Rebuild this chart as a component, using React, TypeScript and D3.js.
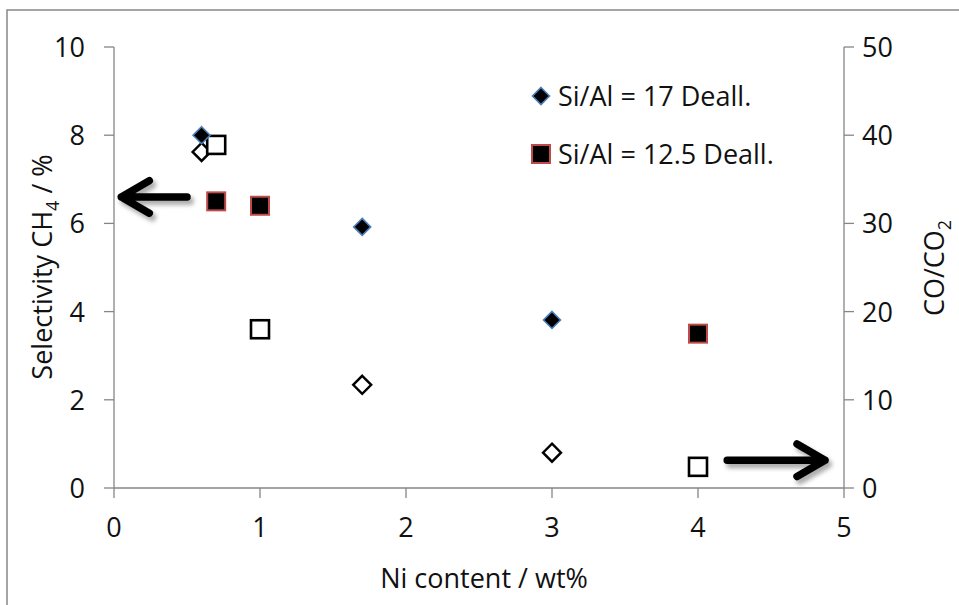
import React from "react";
import * as d3 from "d3";

// Ni loading (wt%) for each catalyst series
const niSi17 = [0.6, 1.7, 3.0];
const niSi125 = [0.7, 1.0, 4.0];

// CH4 selectivity (%) – left axis
const ch4Si17 = [8.0, 5.92, 3.81];
const ch4Si125 = [6.5, 6.4, 3.5];

// CO/CO2 ratio – right axis
const coRatioSi17 = [38.1, 11.7, 4.0];
const coRatioSi125 = [38.9, 18.0, 2.4];

const xTicks = [0, 1, 2, 3, 4, 5];
const leftTicks = [0, 2, 4, 6, 8, 10];
const rightTicks = [0, 10, 20, 30, 40, 50];

const legendLabels = ["Si/Al = 17 Deall.", "Si/Al = 12.5 Deall."];

const W = 959;
const H = 605;
const FONT = "'Open Sans', 'Noto Sans', sans-serif";
const FS = 27;
const AXIS = "#868686";

export default function App() {
  const x = d3.scaleLinear().domain([0, 5]).range([114, 844]);
  const yL = d3.scaleLinear().domain([0, 10]).range([488, 47]);
  const yR = d3.scaleLinear().domain([0, 50]).range([488, 47]);

  const diamond = (cx: number, cy: number, r: number) =>
    `M${cx},${cy - r}L${cx + r},${cy}L${cx},${cy + r}L${cx - r},${cy}Z`;

  const arrowPath = (x1: number, x2: number, y: number, head: number) => {
    const dir = x2 > x1 ? 1 : -1;
    return `M${x1},${y}L${x2},${y}M${x2 - dir * head},${y - head * 0.58}L${x2},${y}L${x2 - dir * head},${y + head * 0.58}`;
  };

  const leftArrow = arrowPath(x(0.5), x(0.05), yL(6.6), 28);
  const rightArrow = arrowPath(x(4.2), x(4.87), yL(0.63), 28);

  return (
    <svg width={W} height={H} style={{ display: "block", position: "absolute", left: 0, top: 0 }}>
      <defs>
        <filter id="shadow" x="-20%" y="-50%" width="140%" height="200%">
          <feGaussianBlur stdDeviation="2" />
        </filter>
      </defs>
      <rect x={0} y={0} width={W} height={H} fill="#fff" />
      <rect x={7} y={10} width={W + 20} height={H + 20} fill="none" stroke="#888" strokeWidth={1.5} />

      {/* axes */}
      <g stroke={AXIS} strokeWidth={1.3}>
        <line x1={x(0)} x2={x(5)} y1={yL(0)} y2={yL(0)} />
        <line x1={x(0)} x2={x(0)} y1={yL(0)} y2={yL(10)} />
        <line x1={x(5)} x2={x(5)} y1={yR(0)} y2={yR(50)} />
        {xTicks.map((t) => (
          <line key={"xt" + t} x1={x(t)} x2={x(t)} y1={yL(0)} y2={yL(0) + 10} />
        ))}
        {leftTicks.map((t) => (
          <line key={"lt" + t} x1={x(0) - 10} x2={x(0)} y1={yL(t)} y2={yL(t)} />
        ))}
        {rightTicks.map((t) => (
          <line key={"rt" + t} x1={x(5)} x2={x(5) + 10} y1={yR(t)} y2={yR(t)} />
        ))}
      </g>

      <g fontFamily={FONT} fontSize={FS} fill="#111">
        {xTicks.map((t) => (
          <text key={"xl" + t} x={x(t)} y={yL(0) + 49} textAnchor="middle">{t}</text>
        ))}
        {leftTicks.map((t) => (
          <text key={"ll" + t} x={x(0) - 29} y={yL(t) + 10} textAnchor="end">{t}</text>
        ))}
        {rightTicks.map((t) => (
          <text key={"rl" + t} x={x(5) + 18} y={yR(t) + 10} textAnchor="start">{t}</text>
        ))}
        <text x={484} y={588} textAnchor="middle">Ni content / wt%</text>
        <text transform={`translate(52,${267}) rotate(-90)`} textAnchor="middle">
          Selectivity CH<tspan fontSize={18} dy={7}>4</tspan><tspan dy={-7}> / %</tspan>
        </text>
        <text transform={`translate(944,${268}) rotate(-90)`} textAnchor="middle">
          CO/CO<tspan fontSize={18} dy={7}>2</tspan>
        </text>
      </g>

      {/* arrows marking which axis each series belongs to */}
      <g fill="none" strokeLinecap="round" strokeLinejoin="round">
        <g transform="translate(3,4)" stroke="#999" strokeWidth={8} filter="url(#shadow)" opacity={0.8}>
          <path d={leftArrow} />
          <path d={rightArrow} />
        </g>
        <g stroke="#000" strokeWidth={7.5}>
          <path d={leftArrow} />
          <path d={rightArrow} />
        </g>
      </g>

      {/* CO/CO2 open markers (right axis) */}
      {niSi17.map((n, i) => (
        <path key={"od" + i} d={diamond(x(n), yR(coRatioSi17[i]), 9)} fill="#fff" stroke="#000" strokeWidth={2.4} />
      ))}
      {niSi125.map((n, i) => (
        <rect key={"os" + i} x={x(n) - 9} y={yR(coRatioSi125[i]) - 9} width={18} height={18} fill="#fff" stroke="#000" strokeWidth={2.6} />
      ))}

      {/* CH4 selectivity filled markers (left axis) */}
      {niSi17.map((n, i) => (
        <path key={"fd" + i} d={diamond(x(n), yL(ch4Si17[i]), 8.5)} fill="#000" stroke="#4a7ebb" strokeWidth={1.6} />
      ))}
      {niSi125.map((n, i) => (
        <rect key={"fs" + i} x={x(n) - 9} y={yL(ch4Si125[i]) - 9} width={18} height={18} fill="#000" stroke="#be4b48" strokeWidth={2} />
      ))}

      {/* legend */}
      <path d={diamond(541, 96, 8.5)} fill="#000" stroke="#4a7ebb" strokeWidth={1.6} />
      <rect x={532} y={145} width={18} height={18} fill="#000" stroke="#be4b48" strokeWidth={2} />
      <g fontFamily={FONT} fontSize={FS} fill="#111">
        <text x={558} y={106}>{legendLabels[0]}</text>
        <text x={558} y={164}>{legendLabels[1]}</text>
      </g>
    </svg>
  );
}
